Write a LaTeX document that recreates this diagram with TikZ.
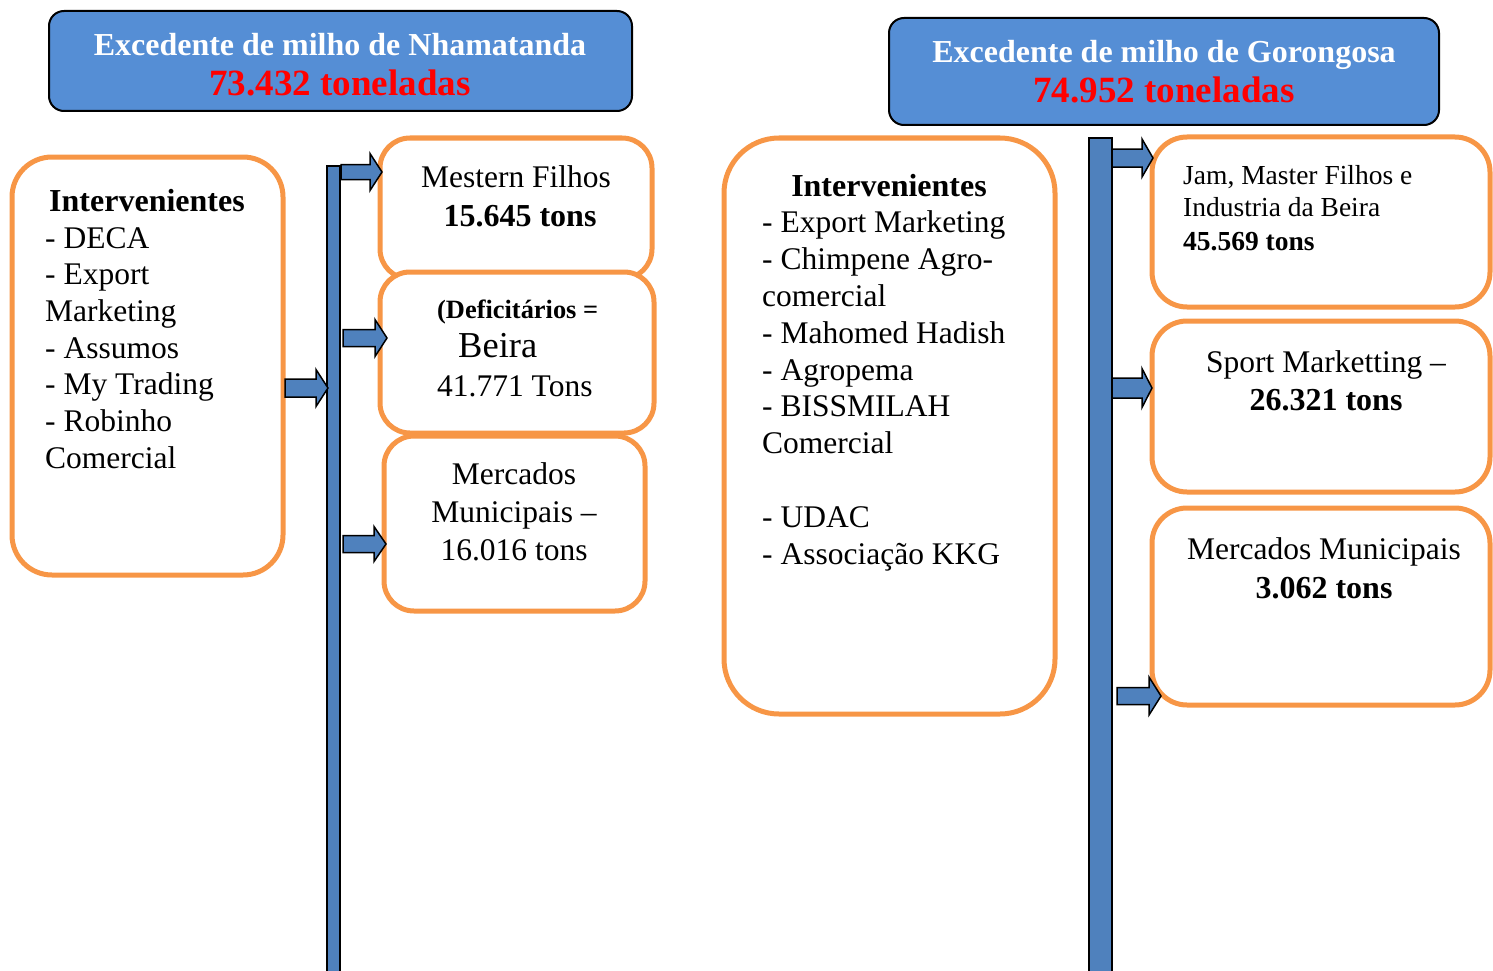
\documentclass[tikz,border=0pt]{standalone}
\usepackage{fontspec}
\setmainfont{Liberation Serif}
\definecolor{titleblue}{HTML}{558ED5}
\definecolor{barblue}{HTML}{4F81BD}
\definecolor{boxorange}{HTML}{F79646}
\definecolor{amountred}{HTML}{FF0000}

% block arrow: start x, tip x, centre y, half shaft, half head, head length
\newcommand\flowarrow[6]{%
  \filldraw[arrowfill] (#1,#3-#4) -- (#2-#6,#3-#4) -- (#2-#6,#3-#5) -- (#2,#3)
    -- (#2-#6,#3+#5) -- (#2-#6,#3+#4) -- (#1,#3+#4) -- cycle;}

\begin{document}
\begin{tikzpicture}[x=1pt,y=-1pt,
  titlebox/.style={draw=black, line width=2pt, fill=titleblue, rounded corners=15pt,
    anchor=north west, inner sep=0pt, outer sep=0pt},
  obox/.style={draw=boxorange, line width=5pt, fill=white,
    anchor=north west, inner sep=0pt, outer sep=0pt},
  barbox/.style={draw=black, line width=1.5pt, fill=barblue,
    anchor=north west, inner sep=0pt, outer sep=0pt},
  arrowfill/.style={draw=black, line width=1.5pt, fill=barblue, line join=miter},
  txt/.style={font=\fontsize{31.5}{36.7}\selectfont, inner sep=0pt},
  btxt/.style={font=\fontsize{32}{36.7}\selectfont\bfseries, inner sep=0pt},
  stxt/.style={font=\fontsize{27.5}{33}\selectfont, inner sep=0pt},
  ttxt/.style={font=\fontsize{32}{36}\selectfont\bfseries, text=white, inner sep=0pt},
  rtxt/.style={font=\fontsize{37}{40}\selectfont\bfseries, text=amountred, inner sep=0pt},
]
\useasboundingbox (0,0) rectangle (1493,971);

% ---------- Nhamatanda ----------
\node[titlebox, minimum width=583pt, minimum height=100pt] (tn) at (49,11) {};
\node[ttxt, anchor=base] (tn1) at (340,56) {Excedente de milho de Nhamatanda};
\node[rtxt, anchor=base] (tn2) at (340,96) {73.432 toneladas};

\node[obox, minimum width=271pt, minimum height=418pt, rounded corners=40pt] (ni) at (12,157) {};
\node[btxt, anchor=base] (nih) at (147,211) {Intervenientes};
\foreach \t [count=\i] in {- DECA, - Export, Marketing, - Assumos, - My Trading, - Robinho, Comercial}
  \node[txt, anchor=base west] (nil\i) at (45,{248+(\i-1)*36.7}) {\t};

\node[barbox, minimum width=13pt, minimum height=820pt] (nbar) at (327,166) {};

\node[obox, minimum width=272pt, minimum height=141pt, rounded corners=30pt] (nb1) at (380,138) {};
\node[obox, minimum width=274pt, minimum height=161pt, rounded corners=30pt] (nb2) at (380,272) {};
\node[obox, minimum width=261pt, minimum height=175pt, rounded corners=30pt] (nb3) at (384,436) {};

\node[txt, anchor=base] (nb1a) at (516,187) {Mestern Filhos};
\node[btxt, anchor=base] (nb1b) at (520,226) {15.645 tons};

\node[font=\fontsize{26.4}{30}\selectfont\bfseries, inner sep=0pt, anchor=base west] (nb2a) at (437,318) {(Deficitários =};
\node[font=\fontsize{36.5}{40}\selectfont, inner sep=0pt, anchor=base west] (nb2b) at (458,357) {Beira};
\node[txt, anchor=base west] (nb2c) at (437,396) {41.771 Tons};

\node[txt, anchor=base] (nb3a) at (514,484) {Mercados};
\node[txt, anchor=base] (nb3b) at (514,522) {Municipais –};
\node[txt, anchor=base] (nb3c) at (514,560) {16.016 tons};

\flowarrow{285}{328}{388}{9}{18.5}{12}
\flowarrow{341}{382}{172}{7.5}{18.5}{12}
\flowarrow{343}{387}{338}{8.5}{18.5}{12}
\flowarrow{343}{386}{544}{8.5}{17.5}{12}

% ---------- Gorongosa ----------
\node[titlebox, minimum width=550pt, minimum height=107pt] (tg) at (889,18) {};
\node[ttxt, anchor=base] (tg1) at (1164,63) {Excedente de milho de Gorongosa};
\node[rtxt, anchor=base] (tg2) at (1164,103) {74.952 toneladas};

\node[obox, minimum width=331pt, minimum height=576pt, rounded corners=55pt] (gi) at (724,138) {};
\node[btxt, anchor=base] (gih) at (889,196) {Intervenientes};
\foreach \t/\yy [count=\i] in {- Export Marketing/232, - Chimpene Agro-/269, comercial/306,
    - Mahomed Hadish/343, - Agropema/380, - BISSMILAH/416, Comercial/453,
    - UDAC/527, - Associação KKG/564}
  \node[txt, anchor=base west] (gil\i) at (762,\yy) {\t};

\node[barbox, minimum width=23pt, minimum height=850pt] (gbar) at (1089,138) {};

\node[obox, minimum width=338pt, minimum height=170pt, rounded corners=35pt] (gb1) at (1152,137) {};
\node[obox, minimum width=338pt, minimum height=171pt, rounded corners=35pt] (gb2) at (1152,321) {};
\node[obox, minimum width=338pt, minimum height=197pt, rounded corners=35pt] (gb3) at (1152,508) {};

\node[stxt, anchor=base west] (gb1a) at (1183,184) {Jam, Master Filhos e};
\node[stxt, anchor=base west] (gb1b) at (1183,216) {Industria da Beira};
\node[font=\fontsize{27.5}{33}\selectfont\bfseries, inner sep=0pt, anchor=base west] (gb1c) at (1183,250) {45.569 tons};

\node[txt, anchor=base] (gb2a) at (1326,372) {Sport Marketting –};
\node[btxt, anchor=base] (gb2b) at (1326,410) {26.321 tons};

\node[txt, anchor=base] (gb3a) at (1324,559) {Mercados Municipais};
\node[btxt, anchor=base] (gb3b) at (1324,598) {3.062 tons};

\flowarrow{1112}{1153}{158}{9}{19}{11}
\flowarrow{1112}{1152}{388}{10}{19.5}{10}
\flowarrow{1117}{1161}{696}{8.5}{19}{12}
\end{tikzpicture}
\end{document}
